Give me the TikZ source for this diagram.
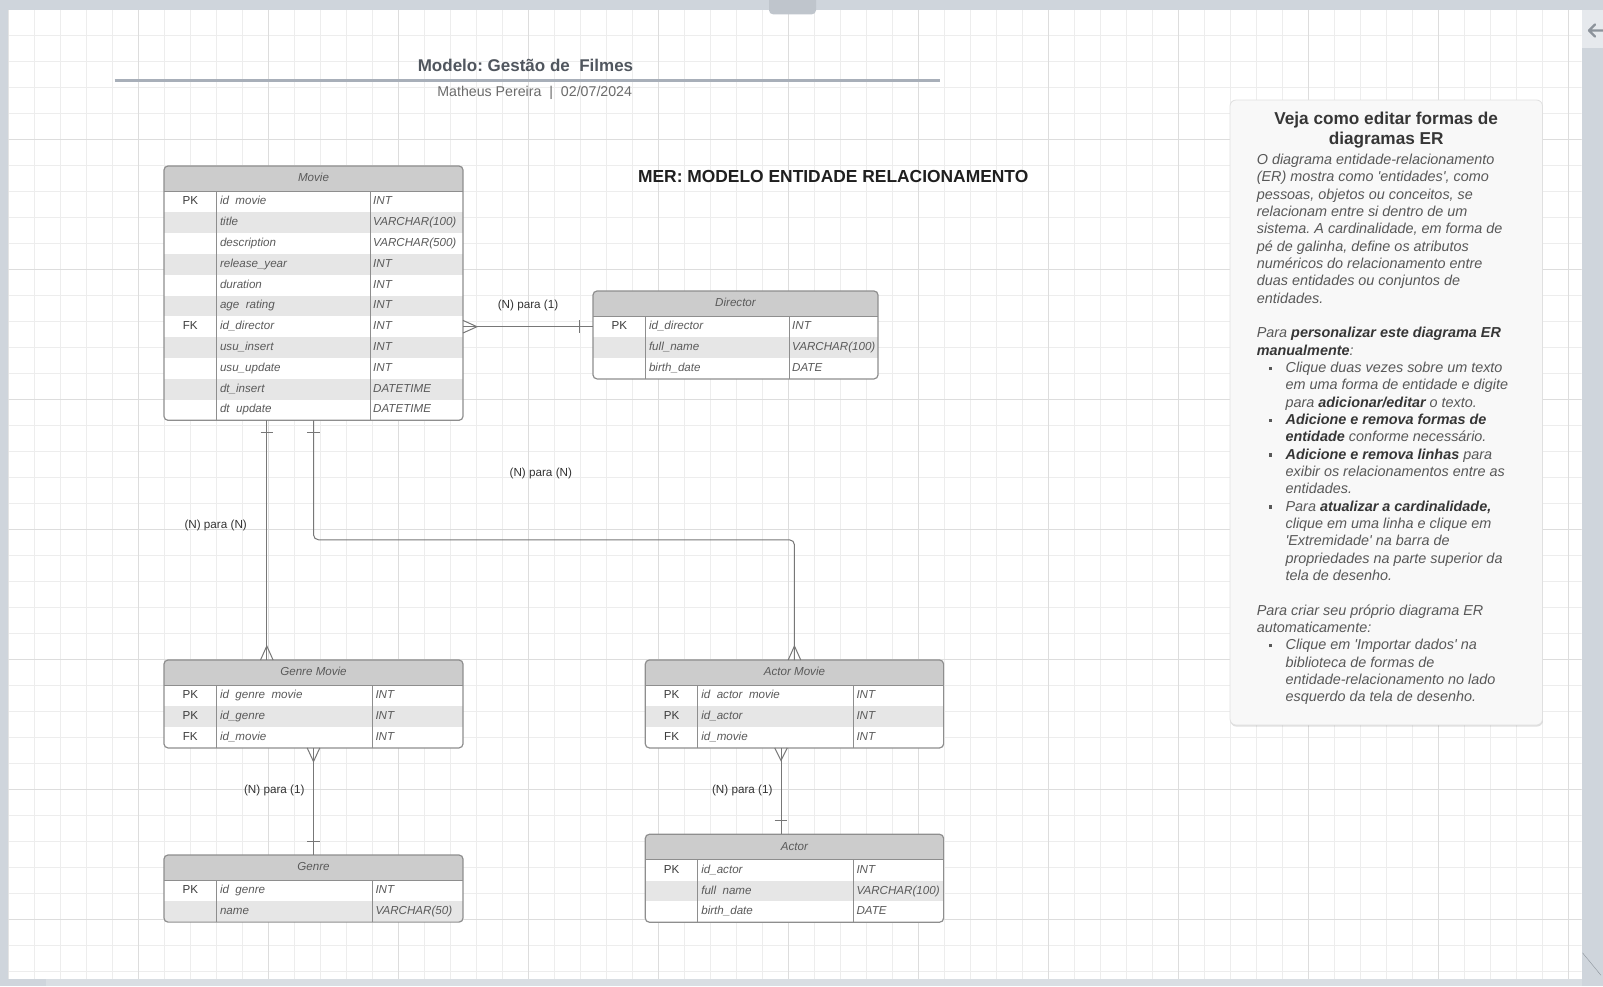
\documentclass[tikz,border=0pt]{standalone}
\usepackage{fontspec}
\setmainfont{Liberation Sans}[Ligatures=TeXOff]
\usetikzlibrary{shadows}
\frenchspacing

\definecolor{framegray}{HTML}{CFD5DC}
\definecolor{barlight}{HTML}{D9DEE3}
\definecolor{tabgray}{HTML}{BFC5CC}
\definecolor{panellight}{HTML}{E6E9ED}
\definecolor{arrowgray}{HTML}{8C939B}
\definecolor{gridminorc}{HTML}{EDEDED}
\definecolor{gridmajorc}{HTML}{DDDDDD}
\definecolor{hdrfill}{HTML}{CCCCCC}
\definecolor{rowfill}{HTML}{E6E6E6}
\definecolor{erlinec}{HTML}{8E8E8E}
\definecolor{ertextc}{HTML}{5A5A5A}
\definecolor{erkeyc}{HTML}{3C3C3C}
\definecolor{relc}{HTML}{777777}
\definecolor{lblc}{HTML}{333333}
\definecolor{titlec}{HTML}{50565E}
\definecolor{subc}{HTML}{6B6B6B}
\definecolor{rulec}{HTML}{A8AFB9}
\definecolor{merc}{HTML}{1F1F1F}
\definecolor{boxfill}{HTML}{F8F8F8}
\definecolor{boxline}{HTML}{E0E0E0}
\definecolor{boxdark}{HTML}{363636}
\definecolor{boxtextc}{HTML}{585858}

\tikzset{
  gridminor/.style={draw=gridminorc, line width=0.9pt},
  gridmajor/.style={draw=gridmajorc, line width=1pt},
  erframe/.style={draw=erlinec, line width=1.2pt, rounded corners=4pt, inner sep=0pt, outer sep=0pt},
  erline/.style={draw=erlinec, line width=1pt},
  ertext/.style={inner sep=0pt, text height=8.5pt, text depth=2.5pt, font=\fontsize{11.6}{14}\selectfont\itshape, text=ertextc},
  keytext/.style={ertext, font=\fontsize{11.6}{14}\selectfont, text=erkeyc},
  coltext/.style={ertext, anchor=west},
  rel/.style={draw=relc, line width=1pt},
  lbl/.style={font=\fontsize{11.7}{14}\selectfont, text=lblc, inner sep=0pt},
  titletext/.style={font=\fontsize{17}{20}\selectfont\bfseries, text=titlec, inner sep=0pt},
  subtext/.style={font=\fontsize{14.2}{17}\selectfont, text=subc, inner sep=0pt},
  mertext/.style={font=\fontsize{17.4}{20}\selectfont\bfseries, text=merc, inner sep=0pt},
  infobox/.style={draw=boxline, fill=boxfill, rounded corners=6pt, line width=0.8pt, inner sep=0pt, outer sep=0pt,
    drop shadow={opacity=0.25, shadow xshift=0.4pt, shadow yshift=-1.6pt}},
  boxhead/.style={font=\fontsize{17.2}{19.6}\selectfont\bfseries, text=boxdark, align=center, inner sep=0pt},
  boxbody/.style={font=\fontsize{14.4}{17.33}\selectfont\itshape, text=boxtextc, align=left, inner sep=0pt}
}

% entity table: name, x, y, width, 2nd divider, rows, title, row list
\newcommand{\erbox}[8]{%
  \begin{scope}
    \clip[rounded corners=4pt] (#2,#3) rectangle ++(#4,25.5+20.8*#6);
    \fill[white] (#2,#3) rectangle ++(#4,25.5+20.8*#6);
    \fill[hdrfill] (#2,#3) rectangle ++(#4,25.5);
    \foreach \ky/\nm/\ty [count=\ri] in {#8} {
      \ifodd\ri\relax\else\fill[rowfill] (#2,#3+4.7+20.8*\ri) rectangle ++(#4,20.8);\fi
      \node[keytext] (#1-k\ri) at (#2+26.3,#3+15.1+20.8*\ri) {\ky};
      \node[coltext] (#1-n\ri) at (#2+55.8,#3+15.1+20.8*\ri) {\nm};
      \node[coltext] (#1-t\ri) at (#2+#5+3,#3+15.1+20.8*\ri) {\ty};
    }
  \end{scope}
  \draw[erline] (#2,#3+25.5) -- ++(#4,0) (#2+52.5,#3+25.5) -- ++(0,20.8*#6) (#2+#5,#3+25.5) -- ++(0,20.8*#6);
  \node[erframe, minimum width=#4, minimum height=25.5+20.8*#6, anchor=north west] (#1) at (#2,#3) {};
  \node[ertext] (#1-h) at (#2+#4/2,#3+12.75) {#7};
}

\newcommand{\boxbf}[1]{\textcolor{boxdark}{\bfseries #1}}
\newcommand{\bulitem}{\makebox[28.8pt][l]{\hspace{11.8pt}\raisebox{2.4pt}{\rule{3.2pt}{3.2pt}}}}
\newcommand{\bulgap}{\hspace*{28.8pt}}

\begin{document}
\begin{tikzpicture}[x=1pt,y=-1pt]
\useasboundingbox (0,0) rectangle (1603,986);
% frame, canvas and grid
\fill[framegray] (0,0) rectangle (1603,986);
\fill[barlight] (46,979) rectangle (1581.7,986);
\fill[panellight] (1581.7,10) rectangle (1603,48.3);
\draw[arrowgray, line width=2.2pt, line cap=round, line join=round] (1604,30.5) -- (1589,30.5) (1595,24.5) -- (1589,30.5) -- (1595,36.5);
\draw[arrowgray] (1582.5,952.8) -- (1601,975.3);
\fill[white] (8.3,10) rectangle (1581.7,978.5);
\begin{scope}
\clip (8.3,10) rectangle (1581.7,978.5);
\foreach \k in {0,...,60} \draw[gridminor] (8.3+26*\k,0) -- ++(0,986);
\foreach \k in {0,...,37} \draw[gridminor] (0,9.3+26*\k) -- ++(1603,0);
\foreach \k in {0,5,...,60} \draw[gridmajor] (8.3+26*\k,0) -- ++(0,986);
\foreach \k in {0,5,...,35} \draw[gridmajor] (0,9.3+26*\k) -- ++(1603,0);
\end{scope}
\fill[tabgray, rounded corners=4pt] (769,-6) rectangle (816,14.3);

% titles
\node[titletext, anchor=base] (title) at (525.5,71.5) {Modelo: Gestão de~~Filmes};
\draw[rulec, line width=3pt] (114.5,80.8) -- (939.5,80.8);
\node[subtext, anchor=base] (subtitle) at (534.7,96) {Matheus Pereira~~|~~02/07/2024};
\node[mertext, anchor=base] (mer) at (833.2,182) {MER: MODELO ENTIDADE RELACIONAMENTO};

% entities
\erbox{movie}{164}{166}{299}{206}{11}{Movie}{PK/id\ \ movie/INT, /title/VARCHAR(100), /description/VARCHAR(500), /release\_year/INT, /duration/INT, /age\ \ rating/INT, FK/id\_director/INT, /usu\_insert/INT, /usu\_update/INT, /dt\_insert/DATETIME, /dt\ \ update/DATETIME}
\erbox{director}{593}{291}{285}{196}{3}{Director}{PK/id\_director/INT, /full\_name/VARCHAR(100), /birth\_date/DATE}
\erbox{genremovie}{164}{660}{299}{208.3}{3}{Genre Movie}{PK/id\ \ genre\ \ movie/INT, PK/id\_genre/INT, FK/id\_movie/INT}
\erbox{genre}{164}{855}{299}{208.3}{2}{Genre}{PK/id\ \ genre/INT, /name/VARCHAR(50)}
\erbox{actormovie}{645.3}{660}{298.3}{208}{3}{Actor Movie}{PK/id\ \ actor\ \ movie/INT, PK/id\_actor/INT, FK/id\_movie/INT}
\erbox{actor}{645.3}{834.3}{298.3}{208}{3}{Actor}{PK/id\_actor/INT, /full\ \ name/VARCHAR(100), /birth\_date/DATE}

% relations
\coordinate (c1a) at (movie.east |- movie-k7);
\coordinate (c1b) at (director.west |- movie-k7);
\draw[rel] (c1a) -- (c1b);
\draw[rel] ([shift={(0,-6.3)}]c1a) -- ([shift={(14,0)}]c1a) -- ([shift={(0,6.3)}]c1a);
\draw[rel] ([shift={(-13.7,-6.3)}]c1b) -- ([shift={(-13.7,6.3)}]c1b);
\node[lbl] (l1) at (528,305.5) {(N) para (1)};

\coordinate (c2a) at ([xshift=102.8pt]movie.south west);
\coordinate (c2b) at (c2a |- genremovie.north);
\draw[rel] (c2a) -- (c2b);
\draw[rel] ([shift={(-6.3,12.1)}]c2a) -- ([shift={(6.3,12.1)}]c2a);
\draw[rel] ([shift={(-6.3,0)}]c2b) -- ([shift={(0,-14)}]c2b) -- ([shift={(6.3,0)}]c2b);
\node[lbl] (l2) at (215.7,525.5) {(N) para (N)};

\draw[rel, rounded corners=5pt] (movie.south) -- ++(0,119.5) -| (actormovie.north);
\draw[rel] ([shift={(-6.3,12.1)}]movie.south) -- ([shift={(6.3,12.1)}]movie.south);
\draw[rel] ([shift={(-6.3,0)}]actormovie.north) -- ([shift={(0,-14)}]actormovie.north) -- ([shift={(6.3,0)}]actormovie.north);
\node[lbl] (l3) at (540.8,473.3) {(N) para (N)};

\draw[rel] (genremovie.south) -- (genre.north);
\draw[rel] ([shift={(-6.3,0)}]genremovie.south) -- ([shift={(0,13.7)}]genremovie.south) -- ([shift={(6.3,0)}]genremovie.south);
\draw[rel] ([shift={(-6.3,-13.7)}]genre.north) -- ([shift={(6.3,-13.7)}]genre.north);
\node[lbl] (l4) at (274.3,790.3) {(N) para (1)};

\coordinate (c5a) at ([xshift=135.7pt]actormovie.south west);
\coordinate (c5b) at (c5a |- actor.north);
\draw[rel] (c5a) -- (c5b);
\draw[rel] ([shift={(-6.3,0)}]c5a) -- ([shift={(0,12.7)}]c5a) -- ([shift={(6.3,0)}]c5a);
\draw[rel] ([shift={(-6.3,-13.6)}]c5b) -- ([shift={(6.3,-13.6)}]c5b);
\node[lbl] (l5) at (742.3,790.3) {(N) para (1)};

% help box
\node[infobox, minimum width=312.5, minimum height=625, anchor=north west] (info) at (1230,100) {};
\node[boxhead, anchor=north] (infotitle) at (1386.2,112.2) {Veja como editar formas de\\diagramas ER};
\node[boxbody, anchor=north west] (infotext) at (1256.6,153.8) {%
O diagrama entidade-relacionamento\\
(ER) mostra como 'entidades', como\\
pessoas, objetos ou conceitos, se\\
relacionam entre si dentro de um\\
sistema. A cardinalidade, em forma de\\
pé de galinha, define os atributos\\
numéricos do relacionamento entre\\
duas entidades ou conjuntos de\\
entidades.\\[17.33pt]
Para \boxbf{personalizar este diagrama ER}\\
\boxbf{manualmente}:\\
\bulitem Clique duas vezes sobre um texto\\
\bulgap em uma forma de entidade e digite\\
\bulgap para \boxbf{adicionar/editar} o texto.\\
\bulitem\boxbf{Adicione e remova formas de}\\
\bulgap\boxbf{entidade} conforme necessário.\\
\bulitem\boxbf{Adicione e remova linhas} para\\
\bulgap exibir os relacionamentos entre as\\
\bulgap entidades.\\
\bulitem Para \boxbf{atualizar a cardinalidade,}\\
\bulgap clique em uma linha e clique em\\
\bulgap 'Extremidade' na barra de\\
\bulgap propriedades na parte superior da\\
\bulgap tela de desenho.\\[17.33pt]
Para criar seu próprio diagrama ER\\
automaticamente:\\
\bulitem Clique em 'Importar dados' na\\
\bulgap biblioteca de formas de\\
\bulgap entidade-relacionamento no lado\\
\bulgap esquerdo da tela de desenho.};
\end{tikzpicture}
\end{document}
